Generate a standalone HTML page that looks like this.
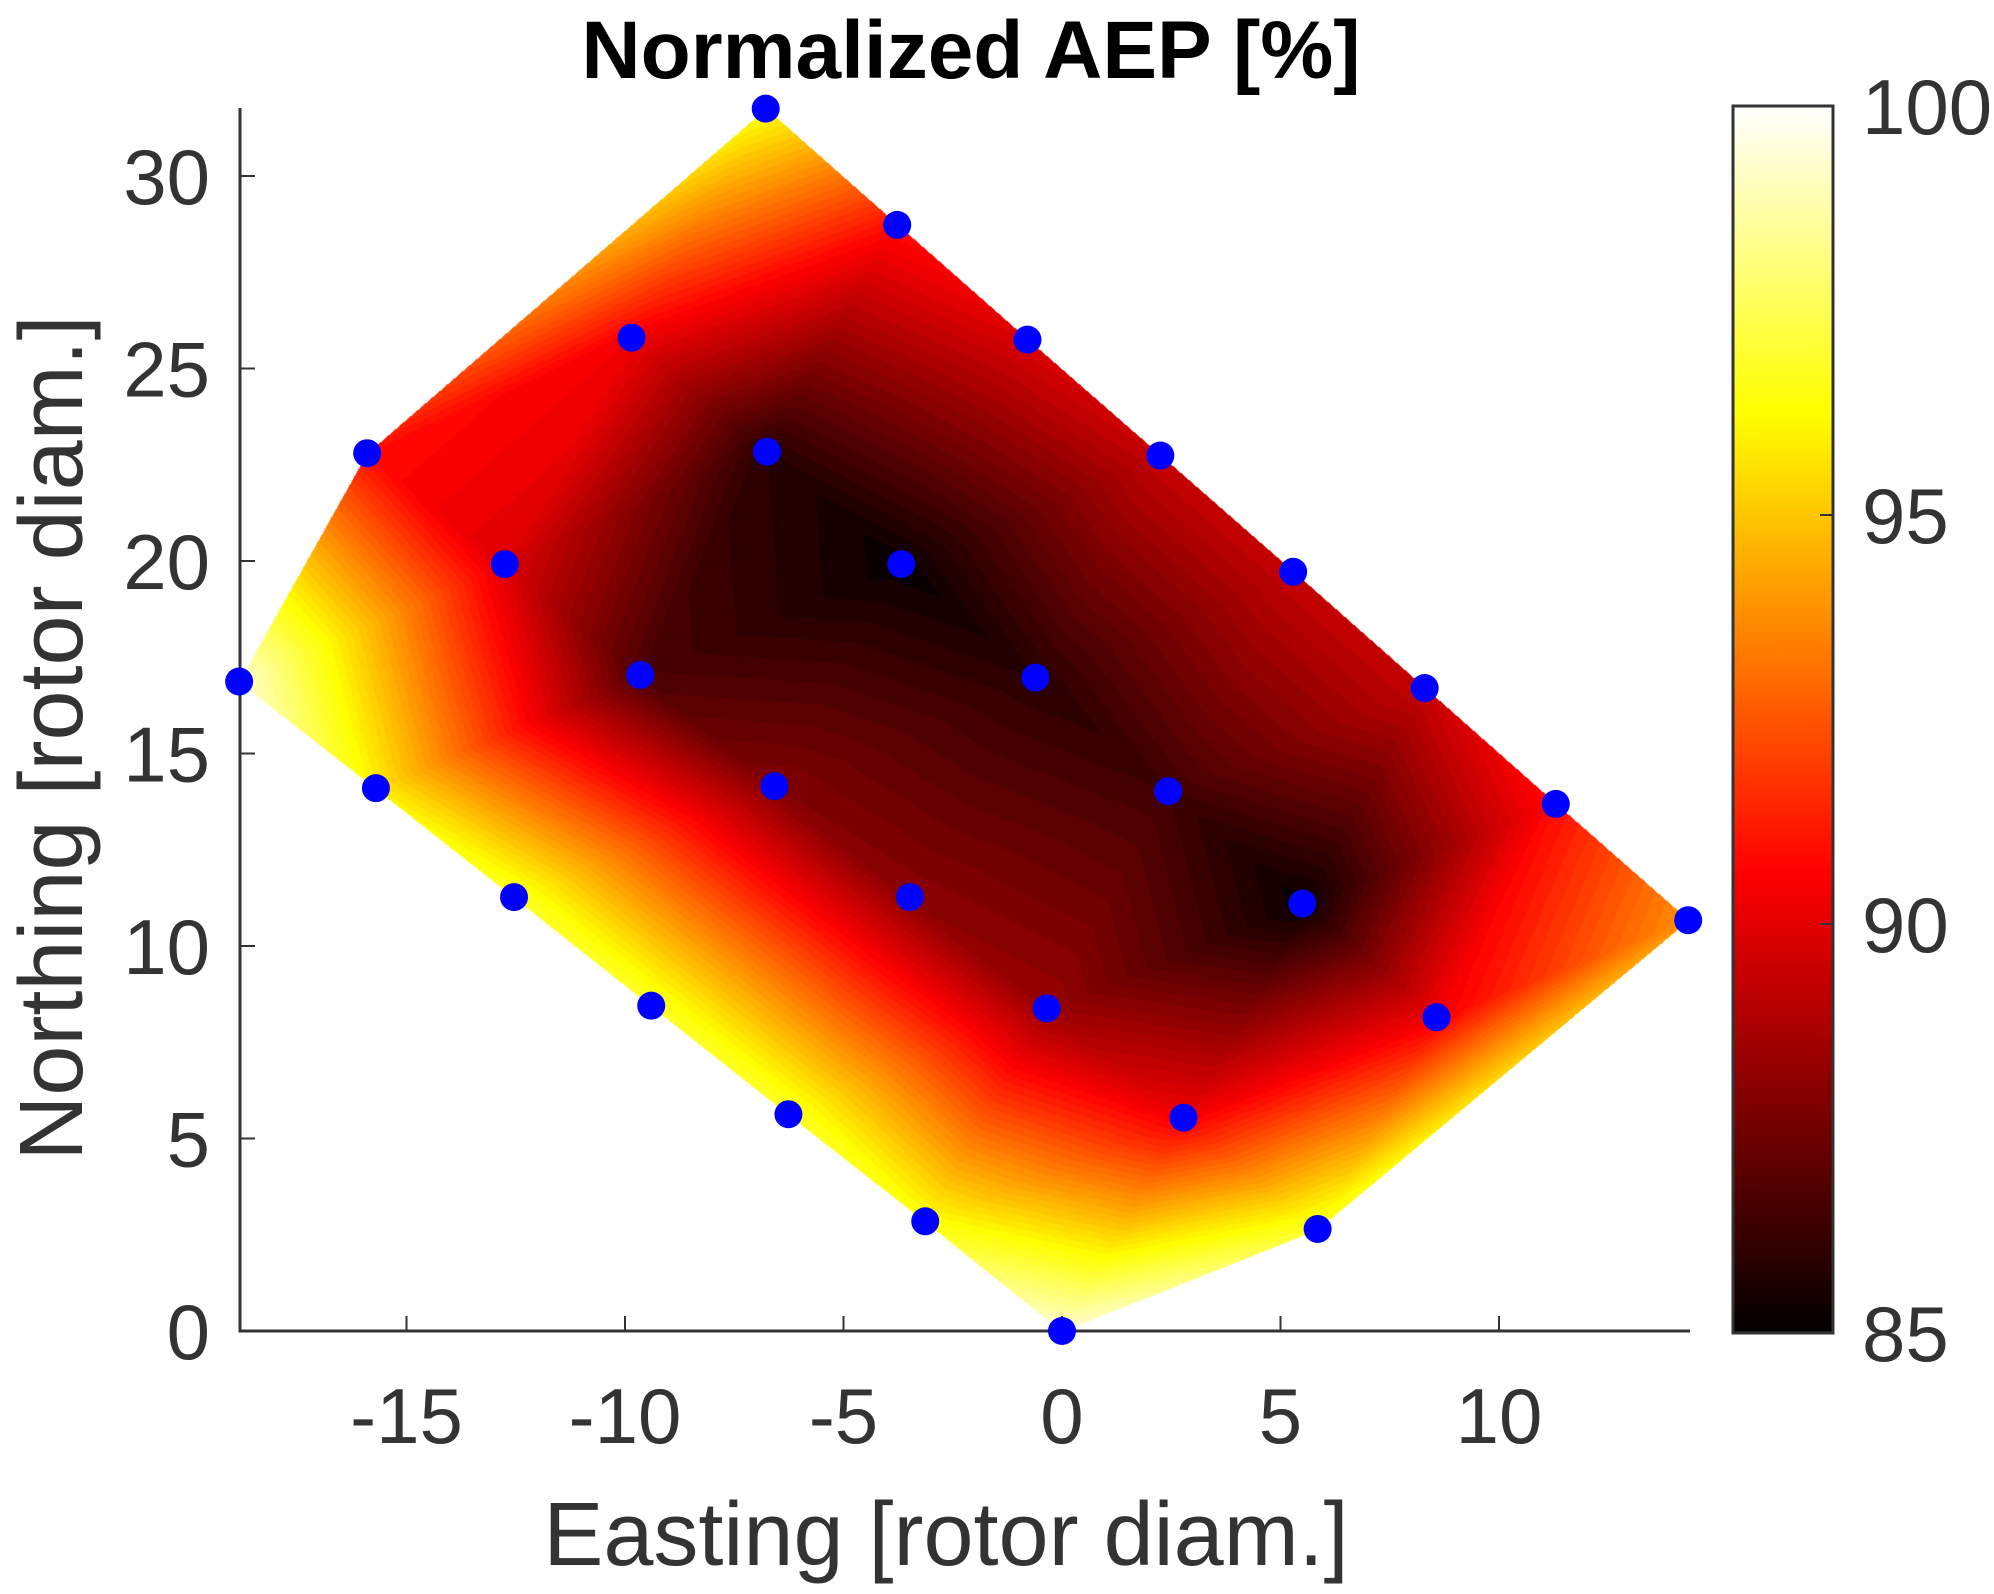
<!DOCTYPE html>
<html><head><meta charset="utf-8"><style>
html,body{margin:0;padding:0;background:#fff;}
#wrap{position:relative;width:1994px;height:1594px;overflow:hidden;font-family:"Liberation Sans",sans-serif;}
canvas,svg{position:absolute;left:0;top:0;}
</style></head><body>
<div id="wrap">
<canvas id="cv" width="1994" height="1594"></canvas>
<svg id="sv" width="1994" height="1594" xmlns="http://www.w3.org/2000/svg">
<defs><linearGradient id="hotg" x1="0" y1="1" x2="0" y2="0">
<stop offset="0" stop-color="#000"/><stop offset="0.375" stop-color="#f00"/><stop offset="0.75" stop-color="#ff0"/><stop offset="1" stop-color="#fff"/>
</linearGradient></defs>
<text x="971" y="78" text-anchor="middle" font-size="82" font-weight="bold" fill="#000">Normalized  AEP [%]</text>
<rect x="1733" y="106" width="100" height="1227" fill="url(#hotg)" stroke="#333" stroke-width="3"/>
<text x="946" y="1565" text-anchor="middle" font-size="90" fill="#333">Easting [rotor diam.]</text>
<text transform="translate(82,738) rotate(-90)" text-anchor="middle" font-size="90" fill="#333">Northing [rotor diam.]</text>
</svg>
</div>
<script>
const px = [-6.78,-3.77,-9.85,-0.79,-15.9,-6.75,2.25,-12.75,-3.68,5.29,-18.83,-9.65,-0.61,8.3,-15.7,-6.58,2.43,11.3,-12.54,-3.48,5.5,14.33,-9.4,-0.35,8.57,-6.26,2.78,-3.13,5.85,0];
const py = [31.75,28.73,25.8,25.75,22.8,22.84,22.74,19.92,19.92,19.72,16.87,17.04,16.97,16.7,14.1,14.15,14.02,13.69,11.27,11.27,11.1,10.67,8.45,8.38,8.15,5.63,5.54,2.85,2.65,0];
const aep = [96.5,91,90.5,90,91,86,89.5,90,85.3,89.5,99.5,86.8,86,89.5,96,88,86.5,91,97,88.2,85.3,94,97,88.5,90.5,97,90.5,96.5,97,99.5];
const xTicks = [-15,-10,-5,0,5,10];
const yTicks = [0,5,10,15,20,25,30];
const cTicks = [85,90,95,100];

const X = v => 1062 + v*43.7;
const Y = v => 1331 - v*38.5;
const C = v => 1333 - (v-85)/15*1227;
const NS = "http://www.w3.org/2000/svg";
const sv = document.getElementById('sv');
function mk(tag, at){const e=document.createElementNS(NS,tag);for(const k in at)e.setAttribute(k,at[k]);sv.appendChild(e);return e;}

function hot(t){t=Math.max(0,Math.min(1,t));
 return [Math.min(1,t/0.375),Math.max(0,Math.min(1,(t-0.375)/0.375)),Math.max(0,Math.min(1,(t-0.75)/0.25))].map(v=>Math.round(v*255));}

const P = px.map((v,i)=>[X(v),Y(py[i])]);
const n = P.length;
const pts = P.concat([[-10000,-10000],[10000,-10000],[0,10000]]);
let tris=[[n,n+1,n+2]];
function circ(t){const [a,b,c]=t.map(i=>pts[i]);
 const d=2*(a[0]*(b[1]-c[1])+b[0]*(c[1]-a[1])+c[0]*(a[1]-b[1]));
 const ux=((a[0]**2+a[1]**2)*(b[1]-c[1])+(b[0]**2+b[1]**2)*(c[1]-a[1])+(c[0]**2+c[1]**2)*(a[1]-b[1]))/d;
 const uy=((a[0]**2+a[1]**2)*(c[0]-b[0])+(b[0]**2+b[1]**2)*(a[0]-c[0])+(c[0]**2+c[1]**2)*(b[0]-a[0]))/d;
 return [ux,uy,(a[0]-ux)**2+(a[1]-uy)**2];}
for(let i=0;i<n;i++){
 const p=pts[i];const bad=[],good=[];
 for(const t of tris){const c=circ(t);((p[0]-c[0])**2+(p[1]-c[1])**2<c[2])?bad.push(t):good.push(t);}
 const edges=[];
 for(const t of bad)for(let k=0;k<3;k++){const e=[t[k],t[(k+1)%3]];
  const idx=edges.findIndex(f=>(f[0]===e[1]&&f[1]===e[0])||(f[0]===e[0]&&f[1]===e[1]));
  idx>=0?edges.splice(idx,1):edges.push(e);}
 tris=good.concat(edges.map(e=>[e[0],e[1],i]));
}
tris=tris.filter(t=>t.every(i=>i<n));

const ctx=document.getElementById('cv').getContext('2d');
const img=ctx.createImageData(1994,1594);
const step=0.25;
for(const t of tris){
 const [a,b,c]=t.map(i=>P[i]);const [va,vb,vc]=t.map(i=>aep[i]);
 const den=(b[1]-c[1])*(a[0]-c[0])+(c[0]-b[0])*(a[1]-c[1]);
 const x0=Math.floor(Math.min(a[0],b[0],c[0])),x1=Math.ceil(Math.max(a[0],b[0],c[0]));
 const y0=Math.floor(Math.min(a[1],b[1],c[1])),y1=Math.ceil(Math.max(a[1],b[1],c[1]));
 for(let y=y0;y<=y1;y++)for(let x=x0;x<=x1;x++){
  const w1=((b[1]-c[1])*(x-c[0])+(c[0]-b[0])*(y-c[1]))/den;
  const w2=((c[1]-a[1])*(x-c[0])+(a[0]-c[0])*(y-c[1]))/den;
  const w3=1-w1-w2;
  if(w1<-0.002||w2<-0.002||w3<-0.002)continue;
  let v=w1*va+w2*vb+w3*vc; v=Math.floor((v-85)/step)*step+85;
  const col=hot((v-85)/15);const o=(y*1994+x)*4;
  img.data[o]=col[0];img.data[o+1]=col[1];img.data[o+2]=col[2];img.data[o+3]=255;
 }
}
ctx.putImageData(img,0,0);

const ax=mk('path',{d:'M240,108 V1331 H1690',fill:'none',stroke:'#333','stroke-width':3});


xTicks.forEach(v=>{
 const l=mk('line',{x1:X(v),x2:X(v),y1:1331,y2:1316,stroke:'#333','stroke-width':2});
 
 
 const tx=mk('text',{x:X(v),y:1443,'text-anchor':'middle','font-size':78,fill:'#333'});tx.textContent=v;
 
 
});
yTicks.forEach(v=>{
 const l=mk('line',{x1:240,x2:255,y1:Y(v),y2:Y(v),stroke:'#333','stroke-width':2});
 
 
 const tx=mk('text',{x:210,y:Y(v)+28,'text-anchor':'end','font-size':78,fill:'#333'});tx.textContent=v;
 
 
});
cTicks.forEach(v=>{
 const l=mk('line',{x1:1820,x2:1833,y1:C(v),y2:C(v),stroke:'#333','stroke-width':2});
 
 
 const tx=mk('text',{x:1862,y:C(v)+28,'font-size':78,fill:'#333'});tx.textContent=v;
 
 
});
px.forEach((v,i)=>{
 const c=mk('circle',{cx:X(v),cy:Y(py[i]),r:14,fill:'#0000ff'});
 
 
});
</script>
</body></html>
